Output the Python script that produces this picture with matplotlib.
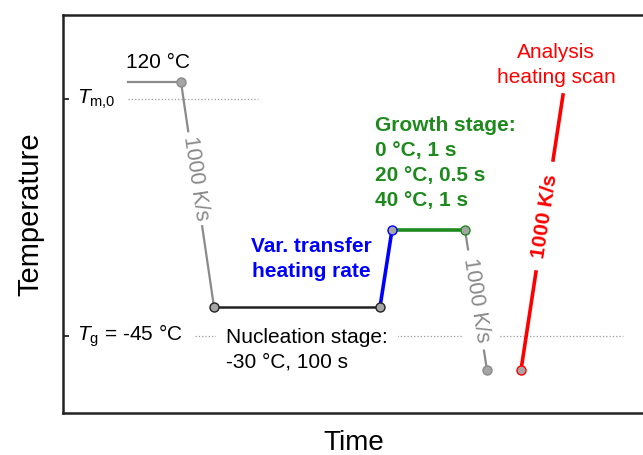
import numpy as np
import matplotlib.pyplot as plt

plt.rcParams['font.family'] = ['Liberation Sans', 'DejaVu Sans']
plt.rcParams['mathtext.fontset'] = 'custom'
plt.rcParams['mathtext.rm'] = 'Liberation Sans'
plt.rcParams['mathtext.it'] = 'Liberation Sans:italic'

# schematic protocol (arbitrary time / temperature units)
melt_t = [65, 118]
melt_T = [331, 331]
cool_t = [118, 151]
cool_T = [331, 106]
nucl_t = [151, 317]
nucl_T = [106, 106]
transfer_t = [317, 329]
transfer_T = [106, 183]
growth_t = [329, 402]
growth_T = [183, 183]
quench_t = [402, 424]
quench_T = [183, 43]
scan_t = [458, 500]
scan_T = [43, 318]

T_m0 = 314
T_g = 77

grey = '#8a8a8a'
mfill = '#a6a6a6'
green = '#1e8a1e'

fig = plt.figure(figsize=(6.43, 4.55), dpi=100)
ax = fig.add_axes([63 / 643, 1 - 413 / 455, 582 / 643, 398 / 455])
ax.set_xlim(0, 582)
ax.set_ylim(0, 398)

for side in ['left', 'bottom', 'top']:
    ax.spines[side].set_linewidth(1.8)
    ax.spines[side].set_color('#222222')
ax.spines['right'].set_visible(False)
ax.set_xticks([])
ax.set_yticks([T_g, T_m0])
ax.set_yticklabels([])
ax.tick_params(axis='y', direction='in', length=4, width=1.3, color='#222222')

ax.set_ylabel('Temperature', fontsize=21, labelpad=10)
ax.set_xlabel('Time', fontsize=20, labelpad=12)

# reference levels
ax.plot([65, 195], [T_m0, T_m0], ls=':', lw=0.9, color='#999999', zorder=1)
ax.plot([132, 560], [T_g, T_g], ls=':', lw=0.9, color='#999999', zorder=1)

mk = dict(marker='o', ms=6.5, mfc=mfill)
ax.plot(melt_t, melt_T, color=grey, lw=1.6, zorder=2)
ax.plot(melt_t[1:], melt_T[1:], color=grey, mec=grey, zorder=4, **mk)
ax.plot(cool_t, cool_T, color=grey, lw=1.6, zorder=2)
ax.plot(nucl_t, nucl_T, color='#222222', lw=1.8, mec='#222222', zorder=4, **mk)
ax.plot(transfer_t, transfer_T, color='#0000ff', lw=2.6, zorder=3)
ax.plot(transfer_t[1:], transfer_T[1:], ls='none', mec='#0000ff', zorder=4, **mk)
ax.plot(growth_t, growth_T, color=green, lw=2.6, zorder=3)
ax.plot(growth_t[1:], growth_T[1:], ls='none', mec=green, zorder=4, **mk)
ax.plot(quench_t, quench_T, color=grey, lw=1.6, zorder=2)
ax.plot(quench_t[1:], quench_T[1:], ls='none', mec=grey, zorder=4, **mk)
ax.plot(scan_t, scan_T, color='#ff0000', lw=2.6, zorder=2)
ax.plot(scan_t[:1], scan_T[:1], ls='none', mec='#ff0000', zorder=4, **mk)


def slope_label(t, T, frac, text, pad, **kw):
    # text laid along a ramp, with a white box cutting the line
    p0 = ax.transData.transform((t[0], T[0]))
    p1 = ax.transData.transform((t[1], T[1]))
    ang = np.degrees(np.arctan2(p1[1] - p0[1], p1[0] - p0[0]))
    x = t[0] + frac * (t[1] - t[0])
    y = T[0] + frac * (T[1] - T[0])
    ax.text(x, y, text, rotation=ang, rotation_mode='anchor',
            ha='center', va='center', zorder=3,
            bbox=dict(boxstyle='square,pad=%g' % pad, fc='white', ec='none'), **kw)


slope_label(cool_t, cool_T, 0.43, '1000 K/s', 0.2, fontsize=15.5, color=grey)
slope_label(quench_t, quench_T, 0.5, '1000 K/s', 0.35, fontsize=15.5, color=grey)
slope_label(scan_t, scan_T, 0.56, '1000 K/s', 0.6,
            fontsize=15, color='#ff0000', fontweight='bold')

ax.text(95, 351, '120 °C', fontsize=15, ha='center', va='center')
ax.text(14, T_m0, r'$T_\mathrm{m{,}0}$', fontsize=15, ha='left', va='center')
ax.text(14, T_g, r'$T_\mathrm{g}$ = -45 °C', fontsize=15, ha='left', va='center')
ax.text(163, 63, 'Nucleation stage:\n-30 °C, 100 s', fontsize=15,
        ha='left', va='center', linespacing=1.4, zorder=3,
        bbox=dict(boxstyle='square,pad=0.5', fc='white', ec='none'))
ax.text(248, 154, 'Var. transfer\nheating rate', fontsize=15, ha='center',
        va='center', color='#0000ff', fontweight='bold', linespacing=1.4)
ax.text(312, 250, 'Growth stage:\n0 °C, 1 s\n20 °C, 0.5 s\n40 °C, 1 s',
        fontsize=15, ha='left', va='center', color=green, fontweight='bold',
        linespacing=1.4)
ax.text(493, 348, 'Analysis\nheating scan', fontsize=15, ha='center',
        va='center', color='#ff0000', linespacing=1.4)

fig.savefig('out.png', dpi=100)
